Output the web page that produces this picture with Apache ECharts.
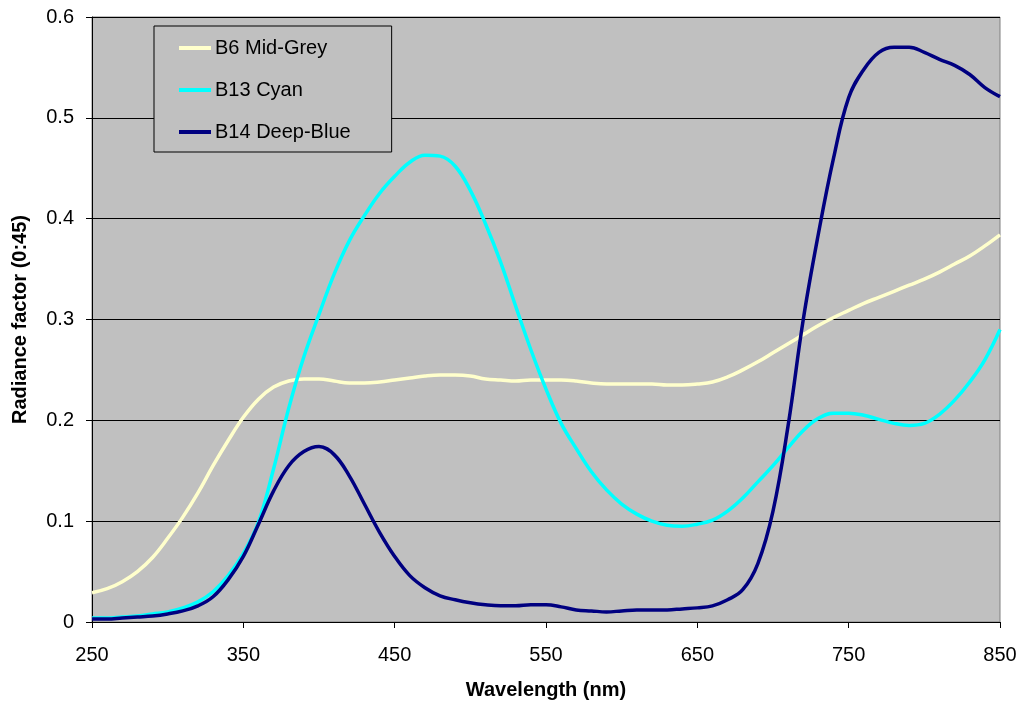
<!DOCTYPE html>
<html>
<head>
<meta charset="utf-8">
<script src="https://cdn.jsdelivr.net/npm/echarts@6/dist/echarts.min.js"></script>
<style>
  html, body { margin: 0; padding: 0; background: #fff; }
  #chart { width: 1023px; height: 709px; }
</style>
</head>
<body>
<div id="chart"></div>
<script>
// wavelengths, nm (every 10 nm)
const wavelengths = [];
for (let w = 250; w <= 850; w += 10) wavelengths.push(w);

// radiance factor values
const midGrey = [
  0.029, 0.033, 0.040, 0.050, 0.064, 0.083, 0.104, 0.128, 0.155, 0.180,
  0.203, 0.221, 0.233, 0.239, 0.241, 0.241, 0.239, 0.237, 0.237, 0.238,
  0.240, 0.242, 0.244, 0.245, 0.245, 0.244, 0.241, 0.240, 0.239, 0.240,
  0.240, 0.240, 0.239, 0.237, 0.236, 0.236, 0.236, 0.236, 0.235, 0.235,
  0.236, 0.238, 0.243, 0.250, 0.258, 0.267, 0.276, 0.285, 0.294, 0.302,
  0.309, 0.316, 0.322, 0.328, 0.334, 0.340, 0.347, 0.355, 0.363, 0.373,
  0.384
];
const cyan = [
  0.004, 0.004, 0.005, 0.006, 0.008, 0.010, 0.014, 0.020, 0.030, 0.046,
  0.068, 0.099, 0.152, 0.212, 0.263, 0.305, 0.345, 0.378, 0.403, 0.425,
  0.442, 0.456, 0.463, 0.462, 0.452, 0.428, 0.395, 0.357, 0.313, 0.270,
  0.231, 0.197, 0.172, 0.149, 0.131, 0.117, 0.107, 0.100, 0.096, 0.095,
  0.097, 0.101, 0.110, 0.123, 0.139, 0.155, 0.173, 0.190, 0.202, 0.207,
  0.207, 0.205, 0.201, 0.197, 0.195, 0.197, 0.206, 0.220, 0.238, 0.260,
  0.290
];
const deepBlue = [
  0.003, 0.003, 0.004, 0.005, 0.006, 0.008, 0.011, 0.016, 0.025, 0.042,
  0.065, 0.097, 0.130, 0.155, 0.169, 0.174, 0.166, 0.145, 0.117, 0.089,
  0.065, 0.046, 0.034, 0.026, 0.022, 0.019, 0.017, 0.016, 0.016, 0.017,
  0.017, 0.015, 0.012, 0.011, 0.010, 0.011, 0.012, 0.012, 0.012, 0.013,
  0.014, 0.016, 0.022, 0.032, 0.058, 0.110, 0.195, 0.300, 0.385, 0.460,
  0.520, 0.548, 0.565, 0.570, 0.570, 0.565, 0.558, 0.552, 0.543, 0.530,
  0.521
];

const seriesNames = ['B6 Mid-Grey', 'B13 Cyan', 'B14 Deep-Blue'];
const seriesColors = ['#FFFFCC', '#00FFFF', '#000080'];
const seriesValues = [midGrey, cyan, deepBlue];

const font = '"Liberation Sans", Arial, sans-serif';

function pairs(vals) {
  return wavelengths.map((w, i) => [w, vals[i]]);
}

const chart = echarts.init(document.getElementById('chart'), null, { renderer: 'canvas' });

chart.setOption({
  animation: false,
  backgroundColor: '#ffffff',
  textStyle: { fontFamily: font, color: '#000' },
  grid: {
    left: 92, right: 23, top: 17, bottom: 87,
    show: true,
    backgroundColor: '#C0C0C0',
    borderColor: '#808080',
    borderWidth: 1
  },
  legend: {
    orient: 'vertical',
    left: 154, top: 26,
    padding: [12, 41, 10, 25],
    itemGap: 22,
    itemWidth: 32,
    itemHeight: 4,
    icon: 'rect',
    backgroundColor: '#C0C0C0',
    borderColor: '#000',
    borderWidth: 1,
    borderRadius: 0,
    textStyle: { fontFamily: font, fontSize: 20, color: '#000', padding: [0, 0, 0, -1] },
    data: seriesNames
  },
  xAxis: {
    type: 'value',
    min: 250, max: 850, interval: 100,
    name: 'Wavelength (nm)',
    nameLocation: 'middle',
    nameGap: 58,
    nameTextStyle: { fontFamily: font, fontSize: 20, fontWeight: 'bold', color: '#000' },
    axisLine: { show: true, onZero: false, lineStyle: { color: '#000', width: 1 } },
    axisTick: { show: true, inside: false, length: 6, lineStyle: { color: '#000' } },
    axisLabel: { fontFamily: font, fontSize: 20, color: '#000', margin: 23 },
    splitLine: { show: false }
  },
  yAxis: {
    type: 'value',
    min: 0, max: 0.6, interval: 0.1,
    name: 'Radiance factor (0:45)',
    nameLocation: 'middle',
    nameGap: 62,
    nameTextStyle: { fontFamily: font, fontSize: 20, fontWeight: 'bold', color: '#000' },
    axisLine: { show: true, lineStyle: { color: '#000', width: 1 } },
    axisTick: { show: true, inside: false, length: 6, lineStyle: { color: '#000' } },
    axisLabel: { fontFamily: font, fontSize: 20, color: '#000', margin: 18 },
    splitLine: { show: true, lineStyle: { color: '#000', width: 1 } }
  },
  series: seriesNames.map((name, i) => ({
    name: name,
    type: 'line',
    smooth: 0.4,
    showSymbol: false,
    symbol: 'none',
    color: seriesColors[i],
    lineStyle: { color: seriesColors[i], width: 3.5 },
    data: pairs(seriesValues[i])
  }))
});
</script>
</body>
</html>
